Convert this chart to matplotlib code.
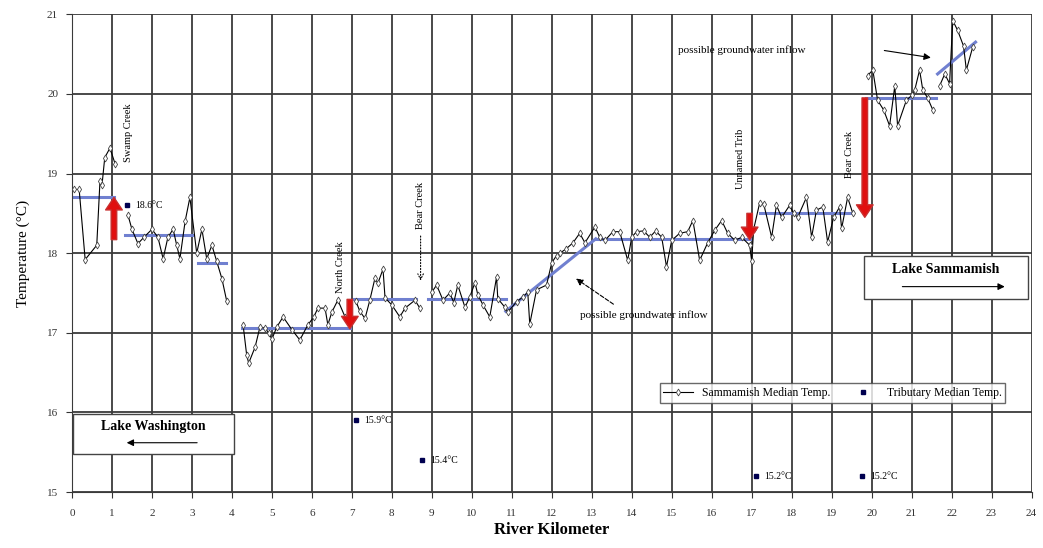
import numpy as np
import matplotlib.pyplot as plt

plt.rcParams['font.family'] = ['Liberation Serif', 'DejaVu Serif']

# Sammamish median temperature by river km (nan = gap in the line)
km = [0.05, 0.18, 0.33, 0.62, 0.7, 0.75, 0.82, 0.95, 1.08, np.nan,
      1.4, 1.5, 1.65, 1.8, 2.0, 2.15, 2.28, 2.4, 2.53, 2.62, 2.7, 2.83, 2.95,
      3.12, 3.25, 3.37, 3.5, 3.62, 3.75, 3.87, np.nan,
      4.28, 4.37, 4.42, 4.58, 4.7, 4.83, 4.92, 5.0, 5.12, 5.28, 5.5, 5.7, 5.9,
      6.05, 6.15, 6.33, 6.4, 6.5, 6.65, 6.83, np.nan,
      7.1, 7.2, 7.33, 7.45, 7.58, 7.65, 7.78, 7.83, 8.0, 8.2, 8.33, 8.58, 8.7, np.nan,
      9.0, 9.12, 9.28, 9.45, 9.55, 9.65, 9.83, 9.95, 10.08, 10.15, 10.28, 10.45,
      10.62, 10.65, 10.83, 10.9, 11.12, 11.28, 11.4, 11.45, 11.62, 11.87, 12.0,
      12.12, 12.2, 12.35, 12.53, 12.7, 12.83, 13.08, 13.2, 13.33, 13.53, 13.7,
      13.9, 14.0, 14.12, 14.3, 14.45, 14.6, 14.75, 14.87, 15.0, 15.2, 15.4,
      15.53, 15.7, 15.9, 16.08, 16.25, 16.4, 16.58, 16.75, 16.95, 17.0,
      17.05, 17.2, 17.3, 17.5, 17.62, 17.75, 17.95, 18.05, 18.15, 18.37, 18.5,
      18.62, 18.78, 18.9, 19.05, 19.2, 19.25, 19.4, 19.53, np.nan,
      19.9, 20.03, 20.15, 20.3, 20.45, 20.58, 20.65, 20.87, 21.0, 21.08, 21.2,
      21.28, 21.4, 21.53, np.nan,
      21.7, 21.83, 21.95, 22.03, 22.15, 22.3, 22.37, 22.53]
temp = [18.8, 18.8, 17.92, 18.1, 18.9, 18.85, 19.2, 19.32, 19.12, np.nan,
        18.48, 18.3, 18.12, 18.2, 18.3, 18.2, 17.93, 18.2, 18.3, 18.1, 17.93, 18.4, 18.7,
        18.0, 18.3, 17.93, 18.1, 17.9, 17.68, 17.4, np.nan,
        17.1, 16.72, 16.62, 16.82, 17.07, 17.06, 17.0, 16.92, 17.07, 17.2, 17.04,
        16.91, 17.1, 17.2, 17.31, 17.31, 17.1, 17.26, 17.41, 17.2, np.nan,
        17.4, 17.27, 17.18, 17.41, 17.69, 17.62, 17.8, 17.44, 17.35, 17.2, 17.31,
        17.41, 17.31, np.nan,
        17.51, 17.6, 17.41, 17.5, 17.38, 17.6, 17.32, 17.45, 17.63, 17.48, 17.35,
        17.2, 17.7, 17.43, 17.32, 17.26, 17.39, 17.45, 17.51, 17.11, 17.54, 17.6,
        17.88, 17.97, 18.0, 18.05, 18.13, 18.25, 18.13, 18.33, 18.2, 18.16, 18.27,
        18.27, 17.91, 18.2, 18.27, 18.28, 18.2, 18.28, 18.2, 17.83, 18.16, 18.25,
        18.27, 18.41, 17.91, 18.13, 18.29, 18.41, 18.25, 18.16, 18.2, 18.1, 17.9,
        18.3, 18.63, 18.62, 18.2, 18.6, 18.45, 18.6, 18.5, 18.45, 18.7, 18.2,
        18.54, 18.58, 18.14, 18.45, 18.58, 18.31, 18.7, 18.5, np.nan,
        20.23, 20.3, 19.92, 19.8, 19.6, 20.1, 19.6, 19.92, 19.98, 20.05, 20.3,
        20.05, 19.95, 19.8, np.nan,
        20.1, 20.25, 20.13, 20.92, 20.8, 20.6, 20.3, 20.59]

# median reaches: start km, end km, start temp, end temp
med_x0 = [0.0, 1.33, 3.15, 4.25, 7.05, 8.9, 10.85, 13.1, 17.2, 19.85, 21.65]
med_x1 = [1.05, 3.0, 3.85, 6.95, 8.6, 10.85, 13.1, 16.95, 19.5, 21.6, 22.6]
med_y0 = [18.7, 18.23, 17.88, 17.06, 17.42, 17.43, 17.27, 18.18, 18.5, 19.95, 20.25]
med_y1 = [18.7, 18.23, 17.88, 17.06, 17.42, 17.43, 18.18, 18.18, 18.5, 19.95, 20.65]

# tributaries
trib_km = [1.37, 7.1, 8.75, 17.1, 19.75]
trib_t = [18.6, 15.9, 15.4, 15.2, 15.2]
trib_lbl = ['18.6°C', '15.9°C', '15.4°C', '15.2°C', '15.2°C']

# temperature jumps at confluences: km, from, to
jump_km = [1.05, 6.95, 16.95, 19.83]
jump_from = [18.17, 17.42, 18.5, 19.95]
jump_to = [18.7, 17.05, 18.17, 18.45]

fig = plt.figure(figsize=(10.43, 5.48), dpi=100)
ax = fig.add_axes([0.069, 0.102, 0.92, 0.872])

for xv in range(0, 25):
    ax.axvline(xv, color='#3a3a3a', lw=1.3, zorder=0)
for yv in range(15, 22):
    ax.axhline(yv, color='#3a3a3a', lw=1.3, zorder=0)

for i in range(len(med_x0)):
    ax.plot([med_x0[i], med_x1[i]], [med_y0[i], med_y1[i]], color='#7080d0',
            lw=2.2, zorder=2)

ax.plot(km, temp, color='black', lw=0.8, marker='d', ms=3.5, mfc='white',
        mec='#444444', mew=0.6, zorder=3, label='Sammamish Median Temp.')
ax.plot(trib_km, trib_t, ls='none', marker='s', ms=3.5, color='#000050',
        zorder=4, label='Tributary Median Temp.')
for i in range(len(trib_km)):
    ax.text(trib_km[i] + 0.22, trib_t[i], trib_lbl[i], fontsize=7, va='center')

for i in range(len(jump_km)):
    ax.annotate('', xy=(jump_km[i], jump_to[i]), xytext=(jump_km[i], jump_from[i]),
                arrowprops=dict(facecolor='#e01010', edgecolor='#c83030',
                                width=4, headwidth=12, headlength=9), zorder=5)

ax.text(1.42, 19.15, 'Swamp Creek', rotation=90, fontsize=7.5, ha='center', va='bottom')
ax.text(6.72, 17.5, 'North Creek', rotation=90, fontsize=7.5, ha='center', va='bottom')
ax.text(8.72, 18.3, 'Bear Creek', rotation=90, fontsize=7.5, ha='center', va='bottom')
ax.text(16.72, 18.8, 'Unnamed Trib', rotation=90, fontsize=7.5, ha='center', va='bottom')
ax.text(19.45, 18.95, 'Bear Creek', rotation=90, fontsize=7.5, ha='center', va='bottom')
ax.annotate('', xy=(8.72, 17.62), xytext=(8.72, 18.25),
            arrowprops=dict(arrowstyle='->', ls=':', color='black', lw=0.8))

ax.text(15.15, 20.55, 'possible groundwater inflow', fontsize=8, va='center')
ax.annotate('', xy=(21.55, 20.45), xytext=(20.25, 20.55),
            arrowprops=dict(arrowstyle='-|>', color='black', lw=0.8))
ax.text(12.7, 17.22, 'possible groundwater inflow', fontsize=8, va='center')
ax.annotate('', xy=(12.55, 17.7), xytext=(13.6, 17.34),
            arrowprops=dict(arrowstyle='-|>', ls='--', color='black', lw=0.8))

# lake boxes
ax.add_patch(plt.Rectangle((0.03, 15.48), 4.02, 0.5, facecolor='white',
                           edgecolor='#444444', lw=1, zorder=5))
ax.text(2.04, 15.83, 'Lake Washington', fontsize=10, fontweight='bold',
        ha='center', va='center', zorder=6)
ax.annotate('', xy=(1.3, 15.62), xytext=(3.2, 15.62), zorder=6,
            arrowprops=dict(arrowstyle='-|>', color='black', lw=0.8))
ax.add_patch(plt.Rectangle((19.8, 17.42), 4.1, 0.54, facecolor='white',
                           edgecolor='#444444', lw=1, zorder=5))
ax.text(21.85, 17.8, 'Lake Sammamish', fontsize=10, fontweight='bold',
        ha='center', va='center', zorder=6)
ax.annotate('', xy=(23.4, 17.58), xytext=(20.7, 17.58), zorder=6,
            arrowprops=dict(arrowstyle='-|>', color='black', lw=0.8))

leg = ax.legend(loc='lower right', bbox_to_anchor=(0.979, 0.175), ncol=2,
                fontsize=8.5, frameon=True, fancybox=False, edgecolor='#444444',
                borderpad=0.3, handlelength=2.5, columnspacing=1.5)
leg.get_frame().set_linewidth(1)

ax.set_xlim(0, 24)
ax.set_ylim(15, 21)
ax.set_xticks(range(0, 25))
ax.set_yticks(range(15, 22))
ax.tick_params(labelsize=8, length=4, direction='out', colors='#333333')
ax.tick_params(axis='x', pad=8)
ax.tick_params(axis='y', pad=6)
for s in ['top', 'right']:
    ax.spines[s].set_visible(False)
for s in ['left', 'bottom']:
    ax.spines[s].set_color('#3a3a3a')
ax.set_xlabel('River Kilometer', fontsize=12, fontweight='bold', labelpad=3)
ax.set_ylabel('Temperature (°C)', fontsize=11, labelpad=12)

plt.savefig('out.png', dpi=100)
